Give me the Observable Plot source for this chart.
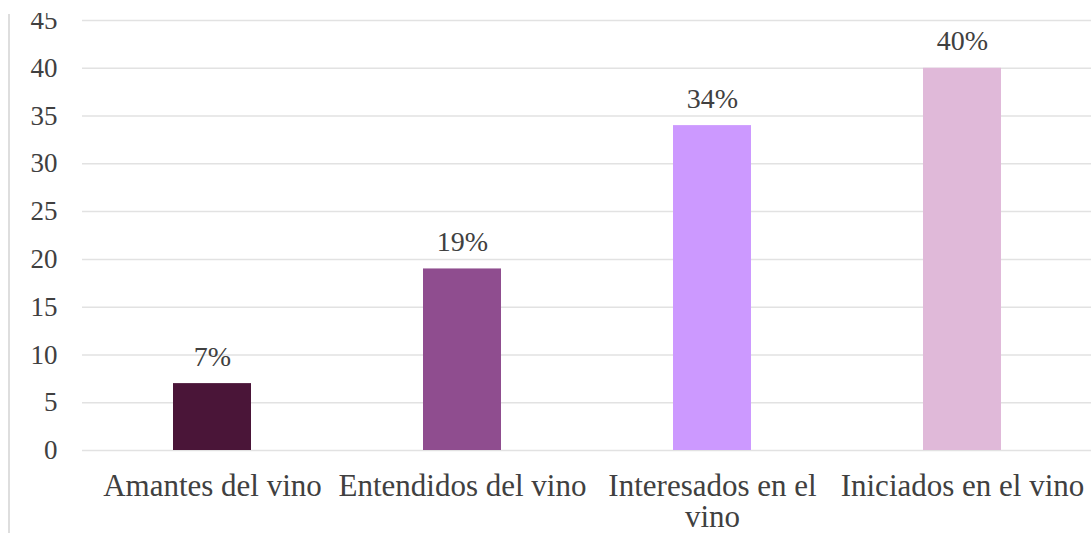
<!DOCTYPE html>
<html><head><meta charset="utf-8">
<script src="https://cdn.jsdelivr.net/npm/d3@7"></script>
<script src="https://cdn.jsdelivr.net/npm/@observablehq/plot@0.6"></script>
<style>
body{margin:0;background:#fff;}
#wrap{position:relative;width:1091px;height:533px;overflow:hidden;background:#fff;}
#edge{position:absolute;left:8px;top:14px;bottom:0;width:2px;background:#dedede;}
#cut{position:absolute;left:0;top:0;width:1091px;height:13px;background:#fff;}
</style></head><body><div id="wrap"></div>
<script>
const categories = ["Amantes del vino", "Entendidos del vino", "Interesados en el\nvino", "Iniciados en el vino"];
const values = [7, 19, 34, 40];
const valueLabels = ["7%", "19%", "34%", "40%"];
const colors = ["#4a1538", "#8f4d8f", "#cc99ff", "#e0b9d9"];
const yTicks = [0, 5, 10, 15, 20, 25, 30, 35, 40, 45];

const data = categories.map((c, i) => ({category: c, value: values[i], label: valueLabels[i]}));
const serif = "Liberation Serif, Times New Roman, serif";

const chart = Plot.plot({
  width: 1091, height: 533,
  marginTop: 20, marginBottom: 83, marginLeft: 82, marginRight: 0,
  style: {fontFamily: serif, color: "#404040", background: "#fff"},
  x: {domain: categories, paddingInner: 0.69, paddingOuter: 0.355, label: null},
  y: {domain: [0, 45], label: null},
  color: {domain: categories, range: colors},
  marks: [
    Plot.gridY(yTicks, {stroke: "#e2e2e2", strokeOpacity: 1, strokeWidth: 1.5}),
    Plot.barY(data, {x: "category", y: "value", fill: "category"}),
    Plot.text(data, {x: "category", y: "value", text: "label", lineAnchor: "bottom", dy: -18, fontSize: 28, fontFamily: serif, fill: "#404040"}),
    Plot.axisY(yTicks, {tickSize: 0, tickPadding: 25, fontSize: 27, fontFamily: serif, label: null}),
    Plot.axisX({tickSize: 0, tickPadding: 23, fontSize: 31, lineHeight: 1.0, fontFamily: serif, label: null})
  ]
});
const wrap = document.getElementById("wrap");
wrap.appendChild(chart);
const edge = document.createElement("div"); edge.id = "edge"; wrap.appendChild(edge);
const cut = document.createElement("div"); cut.id = "cut"; wrap.appendChild(cut);
</script></body></html>
